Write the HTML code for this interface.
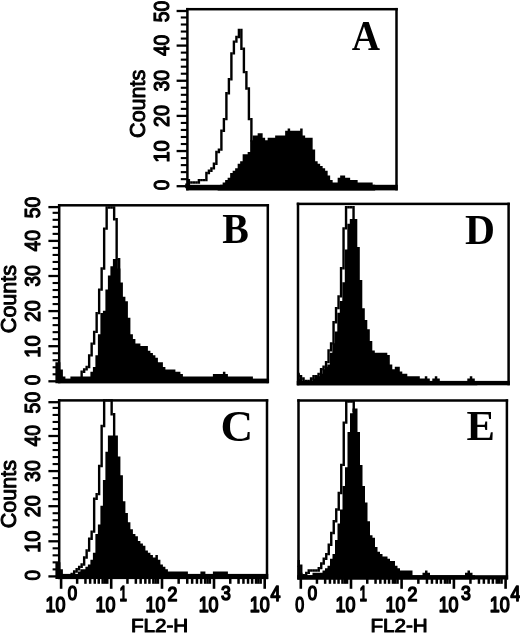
<!DOCTYPE html>
<html><head><meta charset="utf-8"><title>FL2-H histograms</title>
<style>
html,body{margin:0;padding:0;background:#fff;}
body{width:520px;height:636px;overflow:hidden;}
svg{display:block;}
text{fill:#000;}
</style></head><body>
<svg width="520" height="636" viewBox="0 0 520 636">
<rect x="0" y="0" width="520" height="636" fill="#fff"/>
<path d="M185.20 183.60h2.40v4.75h-2.40zM187.70 178.91h2.40v7.09h-2.40zM190.20 181.25h2.40v2.40h-2.40zM192.70 181.25h2.40v2.40h-2.40zM195.20 181.25h2.40v2.40h-2.40zM197.70 178.91h2.40v4.75h-2.40zM200.20 178.91h2.40v2.40h-2.40zM202.70 178.91h2.40v2.40h-2.40zM205.20 171.87h2.40v9.44h-2.40zM207.70 169.52h2.40v4.75h-2.40zM210.20 167.17h2.40v4.75h-2.40zM212.70 162.48h2.40v7.09h-2.40zM215.20 150.74h2.40v14.14h-2.40zM217.70 148.40h2.40v4.75h-2.40zM220.20 129.62h2.40v21.18h-2.40zM222.70 117.88h2.40v14.13h-2.40zM225.20 92.07h2.40v28.22h-2.40zM227.70 77.99h2.40v16.48h-2.40zM230.20 52.17h2.40v28.22h-2.40zM232.70 40.43h2.40v14.14h-2.40zM235.20 35.74h2.40v7.09h-2.40zM237.70 28.70h2.40v9.44h-2.40zM240.20 28.70h2.40v21.18h-2.40zM242.70 47.47h2.40v25.87h-2.40zM245.20 70.94h2.40v18.83h-2.40zM247.70 87.37h2.40v32.91h-2.40zM250.20 117.88h2.40v23.52h-2.40z" fill="#000"/>
<path d="M217.65 190.40 L217.65 187.15 L220.15 187.15 L220.15 184.80 L222.65 184.80 L222.65 182.45 L225.15 182.45 L225.15 180.11 L227.65 180.11 L227.65 177.76 L230.15 177.76 L230.15 173.06 L232.65 173.06 L232.65 170.72 L235.15 170.72 L235.15 168.37 L237.65 168.37 L237.65 163.68 L240.15 163.68 L240.15 161.33 L242.65 161.33 L242.65 154.29 L245.15 154.29 L245.15 154.29 L247.65 154.29 L247.65 151.94 L250.15 151.94 L250.15 140.21 L252.65 140.21 L252.65 135.51 L255.15 135.51 L255.15 135.51 L257.65 135.51 L257.65 133.17 L260.15 133.17 L260.15 133.17 L262.65 133.17 L262.65 137.86 L265.15 137.86 L265.15 140.21 L267.65 140.21 L267.65 137.86 L270.15 137.86 L270.15 137.86 L272.65 137.86 L272.65 137.86 L275.15 137.86 L275.15 135.51 L277.65 135.51 L277.65 135.51 L280.15 135.51 L280.15 135.51 L282.65 135.51 L282.65 135.51 L285.15 135.51 L285.15 130.82 L287.65 130.82 L287.65 128.47 L290.15 128.47 L290.15 130.82 L292.65 130.82 L292.65 130.82 L295.15 130.82 L295.15 130.82 L297.65 130.82 L297.65 130.82 L300.15 130.82 L300.15 128.47 L302.65 128.47 L302.65 135.51 L305.15 135.51 L305.15 137.86 L307.65 137.86 L307.65 137.86 L310.15 137.86 L310.15 137.86 L312.65 137.86 L312.65 149.60 L315.15 149.60 L315.15 161.33 L317.65 161.33 L317.65 163.68 L320.15 163.68 L320.15 166.02 L322.65 166.02 L322.65 168.37 L325.15 168.37 L325.15 170.72 L327.65 170.72 L327.65 175.41 L330.15 175.41 L330.15 180.11 L332.65 180.11 L332.65 182.45 L335.15 182.45 L335.15 182.45 L337.65 182.45 L337.65 177.76 L340.15 177.76 L340.15 175.41 L342.65 175.41 L342.65 175.41 L345.15 175.41 L345.15 177.76 L347.65 177.76 L347.65 177.76 L350.15 177.76 L350.15 180.11 L352.65 180.11 L352.65 180.11 L355.15 180.11 L355.15 180.11 L357.65 180.11 L357.65 182.45 L360.15 182.45 L360.15 182.45 L362.65 182.45 L362.65 182.45 L365.15 182.45 L365.15 182.45 L367.65 182.45 L367.65 182.45 L370.15 182.45 L370.15 182.45 L372.65 182.45 L372.65 184.80 L375.15 184.80 L375.15 190.40 Z" fill="#000"/>
<rect x="186.15" y="7.95" width="211.60" height="2.5" fill="#000"/>
<rect x="186.15" y="7.95" width="2.5" height="182.45" fill="#000"/>
<rect x="395.25" y="7.95" width="2.5" height="182.45" fill="#000"/>
<rect x="186.15" y="184.80" width="211.60" height="5.60" fill="#000"/>
<rect x="176.6" y="185.05" width="10.8" height="2.3" fill="#000"/>
<rect x="180.8" y="178.12" width="6.6" height="2.1" fill="#000"/>
<rect x="180.8" y="171.09" width="6.6" height="2.1" fill="#000"/>
<rect x="180.8" y="164.06" width="6.6" height="2.1" fill="#000"/>
<rect x="180.8" y="157.03" width="6.6" height="2.1" fill="#000"/>
<rect x="176.6" y="149.90" width="10.8" height="2.3" fill="#000"/>
<rect x="180.8" y="142.97" width="6.6" height="2.1" fill="#000"/>
<rect x="180.8" y="135.94" width="6.6" height="2.1" fill="#000"/>
<rect x="180.8" y="128.91" width="6.6" height="2.1" fill="#000"/>
<rect x="180.8" y="121.88" width="6.6" height="2.1" fill="#000"/>
<rect x="176.6" y="114.75" width="10.8" height="2.3" fill="#000"/>
<rect x="180.8" y="107.82" width="6.6" height="2.1" fill="#000"/>
<rect x="180.8" y="100.79" width="6.6" height="2.1" fill="#000"/>
<rect x="180.8" y="93.76" width="6.6" height="2.1" fill="#000"/>
<rect x="180.8" y="86.73" width="6.6" height="2.1" fill="#000"/>
<rect x="176.6" y="79.60" width="10.8" height="2.3" fill="#000"/>
<rect x="180.8" y="72.67" width="6.6" height="2.1" fill="#000"/>
<rect x="180.8" y="65.64" width="6.6" height="2.1" fill="#000"/>
<rect x="180.8" y="58.61" width="6.6" height="2.1" fill="#000"/>
<rect x="180.8" y="51.58" width="6.6" height="2.1" fill="#000"/>
<rect x="176.6" y="44.45" width="10.8" height="2.3" fill="#000"/>
<rect x="180.8" y="37.52" width="6.6" height="2.1" fill="#000"/>
<rect x="180.8" y="30.49" width="6.6" height="2.1" fill="#000"/>
<rect x="180.8" y="23.46" width="6.6" height="2.1" fill="#000"/>
<rect x="180.8" y="16.43" width="6.6" height="2.1" fill="#000"/>
<rect x="176.6" y="9.85" width="10.8" height="2.3" fill="#000"/>
<text transform="matrix(0 -0.8461 1 0 168.58 190.26)" font-family="&quot;Liberation Sans&quot;, sans-serif" font-size="22.39" font-weight="normal" stroke="#000" stroke-width="1.25" stroke-linejoin="round">0</text>
<text transform="matrix(0 -0.8976 1 0 168.58 162.56)" font-family="&quot;Liberation Sans&quot;, sans-serif" font-size="22.39" font-weight="normal" stroke="#000" stroke-width="1.25" stroke-linejoin="round">10</text>
<text transform="matrix(0 -0.8756 1 0 168.58 126.88)" font-family="&quot;Liberation Sans&quot;, sans-serif" font-size="22.39" font-weight="normal" stroke="#000" stroke-width="1.25" stroke-linejoin="round">20</text>
<text transform="matrix(0 -0.8671 1 0 168.58 91.53)" font-family="&quot;Liberation Sans&quot;, sans-serif" font-size="22.39" font-weight="normal" stroke="#000" stroke-width="1.25" stroke-linejoin="round">30</text>
<text transform="matrix(0 -0.8546 1 0 168.58 56.08)" font-family="&quot;Liberation Sans&quot;, sans-serif" font-size="22.39" font-weight="normal" stroke="#000" stroke-width="1.25" stroke-linejoin="round">40</text>
<text transform="matrix(0 -0.8671 1 0 168.58 22.18)" font-family="&quot;Liberation Sans&quot;, sans-serif" font-size="22.39" font-weight="normal" stroke="#000" stroke-width="1.25" stroke-linejoin="round">50</text>
<text transform="matrix(0 -0.9923 1 0 144.58 137.90)" font-family="&quot;Liberation Sans&quot;, sans-serif" font-size="21.69" font-weight="normal" stroke="#000" stroke-width="1.00" stroke-linejoin="round">Counts</text>
<text transform="matrix(0.9098 0 0 1 351.81 49.60)" font-family="&quot;Liberation Serif&quot;, serif" font-size="43.03" font-weight="bold" >A</text>
<path d="M80.45 370.56h2.40v11.79h-2.40zM82.95 368.21h2.40v4.75h-2.40zM85.45 365.87h2.40v4.75h-2.40zM87.95 354.13h2.40v14.13h-2.40zM90.45 342.40h2.40v14.14h-2.40zM92.95 330.66h2.40v14.14h-2.40zM95.45 311.88h2.40v21.18h-2.40zM97.95 288.41h2.40v25.87h-2.40zM100.45 267.29h2.40v23.52h-2.40zM102.95 227.39h2.40v42.30h-2.40zM105.45 206.27h2.40v23.52h-2.40zM107.95 206.27h2.40v2.40h-2.40zM110.45 206.27h2.40v2.40h-2.40zM112.95 206.27h2.40v14.13h-2.40zM115.45 218.00h2.40v42.30h-2.40zM117.95 257.90h2.40v28.22h-2.40z" fill="#000"/>
<path d="M55.40 383.20 L55.40 362.37 L57.90 362.37 L57.90 362.37 L60.40 362.37 L60.40 369.41 L62.90 369.41 L62.90 376.45 L65.40 376.45 L65.40 378.80 L67.90 378.80 L67.90 378.80 L70.40 378.80 L70.40 376.45 L72.90 376.45 L72.90 376.45 L75.40 376.45 L75.40 376.45 L77.90 376.45 L77.90 376.45 L80.40 376.45 L80.40 376.45 L82.90 376.45 L82.90 376.45 L85.40 376.45 L85.40 376.45 L87.90 376.45 L87.90 376.45 L90.40 376.45 L90.40 371.76 L92.90 371.76 L92.90 367.06 L95.40 367.06 L95.40 355.33 L97.90 355.33 L97.90 334.21 L100.40 334.21 L100.40 313.08 L102.90 313.08 L102.90 310.74 L105.40 310.74 L105.40 289.61 L107.90 289.61 L107.90 275.53 L110.40 275.53 L110.40 266.14 L112.90 266.14 L112.90 259.10 L115.40 259.10 L115.40 259.10 L117.90 259.10 L117.90 268.49 L120.40 268.49 L120.40 282.57 L122.90 282.57 L122.90 296.66 L125.40 296.66 L125.40 301.35 L127.90 301.35 L127.90 317.78 L130.40 317.78 L130.40 334.21 L132.90 334.21 L132.90 338.90 L135.40 338.90 L135.40 343.60 L137.90 343.60 L137.90 343.60 L140.40 343.60 L140.40 345.94 L142.90 345.94 L142.90 345.94 L145.40 345.94 L145.40 345.94 L147.90 345.94 L147.90 350.64 L150.40 350.64 L150.40 352.98 L152.90 352.98 L152.90 355.33 L155.40 355.33 L155.40 357.68 L157.90 357.68 L157.90 362.37 L160.40 362.37 L160.40 362.37 L162.90 362.37 L162.90 367.06 L165.40 367.06 L165.40 369.41 L167.90 369.41 L167.90 369.41 L170.40 369.41 L170.40 369.41 L172.90 369.41 L172.90 369.41 L175.40 369.41 L175.40 371.76 L177.90 371.76 L177.90 371.76 L180.40 371.76 L180.40 374.11 L182.90 374.11 L182.90 376.45 L185.40 376.45 L185.40 376.45 L187.90 376.45 L187.90 376.45 L190.40 376.45 L190.40 376.45 L192.90 376.45 L192.90 376.45 L195.40 376.45 L195.40 376.45 L197.90 376.45 L197.90 376.45 L200.40 376.45 L200.40 376.45 L202.90 376.45 L202.90 376.45 L205.40 376.45 L205.40 376.45 L207.90 376.45 L207.90 376.45 L210.40 376.45 L210.40 376.45 L212.90 376.45 L212.90 374.11 L215.40 374.11 L215.40 374.11 L217.90 374.11 L217.90 374.11 L220.40 374.11 L220.40 374.11 L222.90 374.11 L222.90 371.76 L225.40 371.76 L225.40 374.11 L227.90 374.11 L227.90 376.45 L230.40 376.45 L230.40 376.45 L232.90 376.45 L232.90 376.45 L235.40 376.45 L235.40 376.45 L237.90 376.45 L237.90 376.45 L240.40 376.45 L240.40 376.45 L242.90 376.45 L242.90 376.45 L245.40 376.45 L245.40 376.45 L247.90 376.45 L247.90 376.45 L250.40 376.45 L250.40 376.45 L252.90 376.45 L252.90 378.80 L255.40 378.80 L255.40 378.80 L257.90 378.80 L257.90 378.80 L260.40 378.80 L260.40 378.80 L262.90 378.80 L262.90 378.80 L265.40 378.80 L265.40 378.80 L267.90 378.80 L267.90 383.20 Z" fill="#000"/>
<rect x="57.95" y="204.05" width="211.10" height="2.5" fill="#000"/>
<rect x="57.95" y="204.05" width="2.5" height="179.15" fill="#000"/>
<rect x="266.55" y="204.05" width="2.5" height="179.15" fill="#000"/>
<rect x="57.95" y="378.80" width="211.10" height="4.40" fill="#000"/>
<rect x="48.4" y="380.15" width="10.8" height="2.3" fill="#000"/>
<rect x="52.6" y="373.23" width="6.6" height="2.1" fill="#000"/>
<rect x="52.6" y="366.21" width="6.6" height="2.1" fill="#000"/>
<rect x="52.6" y="359.19" width="6.6" height="2.1" fill="#000"/>
<rect x="52.6" y="352.17" width="6.6" height="2.1" fill="#000"/>
<rect x="48.4" y="345.05" width="10.8" height="2.3" fill="#000"/>
<rect x="52.6" y="338.13" width="6.6" height="2.1" fill="#000"/>
<rect x="52.6" y="331.11" width="6.6" height="2.1" fill="#000"/>
<rect x="52.6" y="324.09" width="6.6" height="2.1" fill="#000"/>
<rect x="52.6" y="317.07" width="6.6" height="2.1" fill="#000"/>
<rect x="48.4" y="309.95" width="10.8" height="2.3" fill="#000"/>
<rect x="52.6" y="303.03" width="6.6" height="2.1" fill="#000"/>
<rect x="52.6" y="296.01" width="6.6" height="2.1" fill="#000"/>
<rect x="52.6" y="288.99" width="6.6" height="2.1" fill="#000"/>
<rect x="52.6" y="281.97" width="6.6" height="2.1" fill="#000"/>
<rect x="48.4" y="274.85" width="10.8" height="2.3" fill="#000"/>
<rect x="52.6" y="267.93" width="6.6" height="2.1" fill="#000"/>
<rect x="52.6" y="260.91" width="6.6" height="2.1" fill="#000"/>
<rect x="52.6" y="253.89" width="6.6" height="2.1" fill="#000"/>
<rect x="52.6" y="246.87" width="6.6" height="2.1" fill="#000"/>
<rect x="48.4" y="239.75" width="10.8" height="2.3" fill="#000"/>
<rect x="52.6" y="232.83" width="6.6" height="2.1" fill="#000"/>
<rect x="52.6" y="225.81" width="6.6" height="2.1" fill="#000"/>
<rect x="52.6" y="218.79" width="6.6" height="2.1" fill="#000"/>
<rect x="52.6" y="211.77" width="6.6" height="2.1" fill="#000"/>
<rect x="48.4" y="205.95" width="10.8" height="2.3" fill="#000"/>
<text transform="matrix(0 -0.8461 1 0 40.38 385.36)" font-family="&quot;Liberation Sans&quot;, sans-serif" font-size="22.39" font-weight="normal" stroke="#000" stroke-width="1.25" stroke-linejoin="round">0</text>
<text transform="matrix(0 -0.8976 1 0 40.38 357.71)" font-family="&quot;Liberation Sans&quot;, sans-serif" font-size="22.39" font-weight="normal" stroke="#000" stroke-width="1.25" stroke-linejoin="round">10</text>
<text transform="matrix(0 -0.8756 1 0 40.38 322.08)" font-family="&quot;Liberation Sans&quot;, sans-serif" font-size="22.39" font-weight="normal" stroke="#000" stroke-width="1.25" stroke-linejoin="round">20</text>
<text transform="matrix(0 -0.8671 1 0 40.38 286.78)" font-family="&quot;Liberation Sans&quot;, sans-serif" font-size="22.39" font-weight="normal" stroke="#000" stroke-width="1.25" stroke-linejoin="round">30</text>
<text transform="matrix(0 -0.8546 1 0 40.38 251.38)" font-family="&quot;Liberation Sans&quot;, sans-serif" font-size="22.39" font-weight="normal" stroke="#000" stroke-width="1.25" stroke-linejoin="round">40</text>
<text transform="matrix(0 -0.8671 1 0 40.38 218.28)" font-family="&quot;Liberation Sans&quot;, sans-serif" font-size="22.39" font-weight="normal" stroke="#000" stroke-width="1.25" stroke-linejoin="round">50</text>
<text transform="matrix(0 -0.9923 1 0 16.38 333.13)" font-family="&quot;Liberation Sans&quot;, sans-serif" font-size="21.69" font-weight="normal" stroke="#000" stroke-width="1.00" stroke-linejoin="round">Counts</text>
<text transform="matrix(0.9562 0 0 1 222.30 243.49)" font-family="&quot;Liberation Serif&quot;, serif" font-size="41.67" font-weight="bold" >B</text>
<path d="M67.95 575.05h2.40v2.40h-2.40zM70.45 572.70h2.40v4.75h-2.40zM72.95 570.35h2.40v4.75h-2.40zM75.45 568.01h2.40v4.75h-2.40zM77.95 565.66h2.40v4.75h-2.40zM80.45 563.31h2.40v4.75h-2.40zM82.95 556.27h2.40v9.44h-2.40zM85.45 549.23h2.40v9.44h-2.40zM87.95 537.49h2.40v14.14h-2.40zM90.45 530.45h2.40v9.44h-2.40zM92.95 497.60h2.40v35.26h-2.40zM95.45 492.90h2.40v7.09h-2.40zM97.95 464.74h2.40v30.56h-2.40zM100.45 424.84h2.40v42.30h-2.40zM102.95 399.20h2.40v28.04h-2.40zM105.45 399.20h2.40v2.22h-2.40zM107.95 399.20h2.40v2.22h-2.40zM110.45 399.20h2.40v16.30h-2.40zM112.95 413.10h2.40v25.87h-2.40z" fill="#000"/>
<path d="M55.40 579.10 L55.40 562.16 L57.90 562.16 L57.90 562.16 L60.40 562.16 L60.40 569.21 L62.90 569.21 L62.90 573.90 L65.40 573.90 L65.40 576.25 L67.90 576.25 L67.90 576.25 L70.40 576.25 L70.40 573.90 L72.90 573.90 L72.90 573.90 L75.40 573.90 L75.40 573.90 L77.90 573.90 L77.90 571.55 L80.40 571.55 L80.40 569.21 L82.90 569.21 L82.90 569.21 L85.40 569.21 L85.40 566.86 L87.90 566.86 L87.90 564.51 L90.40 564.51 L90.40 559.82 L92.90 559.82 L92.90 552.78 L95.40 552.78 L95.40 534.00 L97.90 534.00 L97.90 524.61 L100.40 524.61 L100.40 505.84 L102.90 505.84 L102.90 480.02 L105.40 480.02 L105.40 451.86 L107.90 451.86 L107.90 435.43 L110.40 435.43 L110.40 435.43 L112.90 435.43 L112.90 435.43 L115.40 435.43 L115.40 435.43 L117.90 435.43 L117.90 456.55 L120.40 456.55 L120.40 475.33 L122.90 475.33 L122.90 501.14 L125.40 501.14 L125.40 512.88 L127.90 512.88 L127.90 522.27 L130.40 522.27 L130.40 529.31 L132.90 529.31 L132.90 534.00 L135.40 534.00 L135.40 536.35 L137.90 536.35 L137.90 541.04 L140.40 541.04 L140.40 543.39 L142.90 543.39 L142.90 545.74 L145.40 545.74 L145.40 550.43 L147.90 550.43 L147.90 552.78 L150.40 552.78 L150.40 555.12 L152.90 555.12 L152.90 557.47 L155.40 557.47 L155.40 555.12 L157.90 555.12 L157.90 559.82 L160.40 559.82 L160.40 564.51 L162.90 564.51 L162.90 566.86 L165.40 566.86 L165.40 569.21 L167.90 569.21 L167.90 571.55 L170.40 571.55 L170.40 571.55 L172.90 571.55 L172.90 571.55 L175.40 571.55 L175.40 571.55 L177.90 571.55 L177.90 571.55 L180.40 571.55 L180.40 571.55 L182.90 571.55 L182.90 571.55 L185.40 571.55 L185.40 571.55 L187.90 571.55 L187.90 573.90 L190.40 573.90 L190.40 573.90 L192.90 573.90 L192.90 573.90 L195.40 573.90 L195.40 573.90 L197.90 573.90 L197.90 573.90 L200.40 573.90 L200.40 571.55 L202.90 571.55 L202.90 571.55 L205.40 571.55 L205.40 573.90 L207.90 573.90 L207.90 573.90 L210.40 573.90 L210.40 573.90 L212.90 573.90 L212.90 571.55 L215.40 571.55 L215.40 571.55 L217.90 571.55 L217.90 571.55 L220.40 571.55 L220.40 571.55 L222.90 571.55 L222.90 571.55 L225.40 571.55 L225.40 571.55 L227.90 571.55 L227.90 573.90 L230.40 573.90 L230.40 579.10 Z" fill="#000"/>
<rect x="57.95" y="399.15" width="210.30" height="2.5" fill="#000"/>
<rect x="57.95" y="399.15" width="2.5" height="179.95" fill="#000"/>
<rect x="265.75" y="399.15" width="2.5" height="179.95" fill="#000"/>
<rect x="57.95" y="573.90" width="210.30" height="5.20" fill="#000"/>
<rect x="48.4" y="575.25" width="10.8" height="2.3" fill="#000"/>
<rect x="52.6" y="568.33" width="6.6" height="2.1" fill="#000"/>
<rect x="52.6" y="561.31" width="6.6" height="2.1" fill="#000"/>
<rect x="52.6" y="554.29" width="6.6" height="2.1" fill="#000"/>
<rect x="52.6" y="547.27" width="6.6" height="2.1" fill="#000"/>
<rect x="48.4" y="540.15" width="10.8" height="2.3" fill="#000"/>
<rect x="52.6" y="533.23" width="6.6" height="2.1" fill="#000"/>
<rect x="52.6" y="526.21" width="6.6" height="2.1" fill="#000"/>
<rect x="52.6" y="519.19" width="6.6" height="2.1" fill="#000"/>
<rect x="52.6" y="512.17" width="6.6" height="2.1" fill="#000"/>
<rect x="48.4" y="505.05" width="10.8" height="2.3" fill="#000"/>
<rect x="52.6" y="498.13" width="6.6" height="2.1" fill="#000"/>
<rect x="52.6" y="491.11" width="6.6" height="2.1" fill="#000"/>
<rect x="52.6" y="484.09" width="6.6" height="2.1" fill="#000"/>
<rect x="52.6" y="477.07" width="6.6" height="2.1" fill="#000"/>
<rect x="48.4" y="469.95" width="10.8" height="2.3" fill="#000"/>
<rect x="52.6" y="463.03" width="6.6" height="2.1" fill="#000"/>
<rect x="52.6" y="456.01" width="6.6" height="2.1" fill="#000"/>
<rect x="52.6" y="448.99" width="6.6" height="2.1" fill="#000"/>
<rect x="52.6" y="441.97" width="6.6" height="2.1" fill="#000"/>
<rect x="48.4" y="434.85" width="10.8" height="2.3" fill="#000"/>
<rect x="52.6" y="427.93" width="6.6" height="2.1" fill="#000"/>
<rect x="52.6" y="420.91" width="6.6" height="2.1" fill="#000"/>
<rect x="52.6" y="413.89" width="6.6" height="2.1" fill="#000"/>
<rect x="52.6" y="406.87" width="6.6" height="2.1" fill="#000"/>
<rect x="48.4" y="401.05" width="10.8" height="2.3" fill="#000"/>
<text transform="matrix(0 -0.8461 1 0 40.38 580.46)" font-family="&quot;Liberation Sans&quot;, sans-serif" font-size="22.39" font-weight="normal" stroke="#000" stroke-width="1.25" stroke-linejoin="round">0</text>
<text transform="matrix(0 -0.8976 1 0 40.38 552.81)" font-family="&quot;Liberation Sans&quot;, sans-serif" font-size="22.39" font-weight="normal" stroke="#000" stroke-width="1.25" stroke-linejoin="round">10</text>
<text transform="matrix(0 -0.8756 1 0 40.38 517.18)" font-family="&quot;Liberation Sans&quot;, sans-serif" font-size="22.39" font-weight="normal" stroke="#000" stroke-width="1.25" stroke-linejoin="round">20</text>
<text transform="matrix(0 -0.8671 1 0 40.38 481.88)" font-family="&quot;Liberation Sans&quot;, sans-serif" font-size="22.39" font-weight="normal" stroke="#000" stroke-width="1.25" stroke-linejoin="round">30</text>
<text transform="matrix(0 -0.8546 1 0 40.38 446.48)" font-family="&quot;Liberation Sans&quot;, sans-serif" font-size="22.39" font-weight="normal" stroke="#000" stroke-width="1.25" stroke-linejoin="round">40</text>
<text transform="matrix(0 -0.8671 1 0 40.38 413.38)" font-family="&quot;Liberation Sans&quot;, sans-serif" font-size="22.39" font-weight="normal" stroke="#000" stroke-width="1.25" stroke-linejoin="round">50</text>
<text transform="matrix(0 -0.9923 1 0 16.38 528.23)" font-family="&quot;Liberation Sans&quot;, sans-serif" font-size="21.69" font-weight="normal" stroke="#000" stroke-width="1.00" stroke-linejoin="round">Counts</text>
<rect x="59.8" y="578.5" width="2.6" height="10.3" fill="#000"/>
<rect x="75.9" y="578.5" width="2.5" height="5.3" fill="#000"/>
<rect x="84.2" y="578.5" width="2.5" height="5.3" fill="#000"/>
<rect x="88.9" y="578.5" width="2.5" height="5.3" fill="#000"/>
<rect x="93.5" y="578.5" width="2.5" height="5.3" fill="#000"/>
<rect x="97.5" y="578.5" width="2.5" height="5.3" fill="#000"/>
<rect x="101.4" y="578.5" width="2.5" height="5.3" fill="#000"/>
<rect x="103.7" y="578.5" width="2.5" height="5.3" fill="#000"/>
<rect x="106.0" y="578.5" width="2.5" height="5.3" fill="#000"/>
<rect x="109.9" y="578.5" width="2.6" height="10.3" fill="#000"/>
<rect x="126.2" y="578.5" width="2.5" height="5.3" fill="#000"/>
<rect x="134.6" y="578.5" width="2.5" height="5.3" fill="#000"/>
<rect x="139.4" y="578.5" width="2.5" height="5.3" fill="#000"/>
<rect x="144.1" y="578.5" width="2.5" height="5.3" fill="#000"/>
<rect x="148.2" y="578.5" width="2.5" height="5.3" fill="#000"/>
<rect x="152.1" y="578.5" width="2.5" height="5.3" fill="#000"/>
<rect x="154.4" y="578.5" width="2.5" height="5.3" fill="#000"/>
<rect x="156.7" y="578.5" width="2.5" height="5.3" fill="#000"/>
<rect x="160.7" y="578.5" width="2.6" height="10.3" fill="#000"/>
<rect x="177.4" y="578.5" width="2.5" height="5.3" fill="#000"/>
<rect x="186.0" y="578.5" width="2.5" height="5.3" fill="#000"/>
<rect x="190.9" y="578.5" width="2.5" height="5.3" fill="#000"/>
<rect x="195.7" y="578.5" width="2.5" height="5.3" fill="#000"/>
<rect x="199.9" y="578.5" width="2.5" height="5.3" fill="#000"/>
<rect x="203.9" y="578.5" width="2.5" height="5.3" fill="#000"/>
<rect x="206.3" y="578.5" width="2.5" height="5.3" fill="#000"/>
<rect x="208.6" y="578.5" width="2.5" height="5.3" fill="#000"/>
<rect x="212.7" y="578.5" width="2.6" height="10.3" fill="#000"/>
<rect x="229.0" y="578.5" width="2.5" height="5.3" fill="#000"/>
<rect x="237.3" y="578.5" width="2.5" height="5.3" fill="#000"/>
<rect x="242.2" y="578.5" width="2.5" height="5.3" fill="#000"/>
<rect x="246.8" y="578.5" width="2.5" height="5.3" fill="#000"/>
<rect x="250.9" y="578.5" width="2.5" height="5.3" fill="#000"/>
<rect x="254.8" y="578.5" width="2.5" height="5.3" fill="#000"/>
<rect x="257.1" y="578.5" width="2.5" height="5.3" fill="#000"/>
<rect x="259.4" y="578.5" width="2.5" height="5.3" fill="#000"/>
<rect x="263.4" y="578.5" width="2.6" height="10.3" fill="#000"/>
<text transform="matrix(0.8356 0 0 1 45.56 611.89)" font-family="&quot;Liberation Sans&quot;, sans-serif" font-size="21.41" font-weight="normal" stroke="#000" stroke-width="1.60" stroke-linejoin="round">10</text>
<text transform="matrix(0.8190 0 0 1 67.63 600.49)" font-family="&quot;Liberation Sans&quot;, sans-serif" font-size="20.56" font-weight="normal" stroke="#000" stroke-width="1.60" stroke-linejoin="round">0</text>
<text transform="matrix(0.8356 0 0 1 95.56 611.89)" font-family="&quot;Liberation Sans&quot;, sans-serif" font-size="21.41" font-weight="normal" stroke="#000" stroke-width="1.60" stroke-linejoin="round">10</text>
<text transform="matrix(0.6375 0 0 1 119.59 600.70)" font-family="&quot;Liberation Sans&quot;, sans-serif" font-size="21.16" font-weight="normal" stroke="#000" stroke-width="1.60" stroke-linejoin="round">1</text>
<text transform="matrix(0.8356 0 0 1 145.56 611.89)" font-family="&quot;Liberation Sans&quot;, sans-serif" font-size="21.41" font-weight="normal" stroke="#000" stroke-width="1.60" stroke-linejoin="round">10</text>
<text transform="matrix(0.8535 0 0 1 167.41 600.70)" font-family="&quot;Liberation Sans&quot;, sans-serif" font-size="20.86" font-weight="normal" stroke="#000" stroke-width="1.60" stroke-linejoin="round">2</text>
<text transform="matrix(0.8356 0 0 1 198.66 611.89)" font-family="&quot;Liberation Sans&quot;, sans-serif" font-size="21.41" font-weight="normal" stroke="#000" stroke-width="1.60" stroke-linejoin="round">10</text>
<text transform="matrix(0.8588 0 0 1 220.89 600.49)" font-family="&quot;Liberation Sans&quot;, sans-serif" font-size="20.56" font-weight="normal" stroke="#000" stroke-width="1.60" stroke-linejoin="round">3</text>
<text transform="matrix(0.8356 0 0 1 249.76 611.89)" font-family="&quot;Liberation Sans&quot;, sans-serif" font-size="21.41" font-weight="normal" stroke="#000" stroke-width="1.60" stroke-linejoin="round">10</text>
<text transform="matrix(0.8507 0 0 1 270.55 600.70)" font-family="&quot;Liberation Sans&quot;, sans-serif" font-size="21.16" font-weight="normal" stroke="#000" stroke-width="1.60" stroke-linejoin="round">4</text>
<text transform="matrix(1.0787 0 0 1 130.95 632.30)" font-family="&quot;Liberation Sans&quot;, sans-serif" font-size="19.14" font-weight="normal" stroke="#000" stroke-width="1.00" stroke-linejoin="round">FL2-H</text>
<text transform="matrix(1.0338 0 0 1 220.44 440.76)" font-family="&quot;Liberation Serif&quot;, serif" font-size="43.73" font-weight="bold" >C</text>
<path d="M297.35 372.66h2.40v4.75h-2.40zM299.85 375.01h2.40v4.75h-2.40zM302.35 377.35h2.40v4.75h-2.40zM304.85 379.70h2.40v2.40h-2.40zM307.35 379.70h2.40v2.40h-2.40zM309.85 377.35h2.40v4.75h-2.40zM312.35 375.01h2.40v4.75h-2.40zM314.85 375.01h2.40v2.40h-2.40zM317.35 372.66h2.40v4.75h-2.40zM319.85 367.96h2.40v7.09h-2.40zM322.35 365.62h2.40v4.75h-2.40zM324.85 360.92h2.40v7.09h-2.40zM327.35 349.19h2.40v14.14h-2.40zM329.85 342.15h2.40v9.44h-2.40zM332.35 321.02h2.40v23.52h-2.40zM334.85 306.94h2.40v16.48h-2.40zM337.35 295.21h2.40v14.14h-2.40zM339.85 267.04h2.40v30.56h-2.40zM342.35 227.14h2.40v42.30h-2.40zM344.85 206.02h2.40v23.52h-2.40zM347.35 206.02h2.40v2.40h-2.40zM349.85 206.02h2.40v2.40h-2.40zM352.35 206.02h2.40v14.13h-2.40z" fill="#000"/>
<path d="M297.30 385.30 L297.30 373.86 L299.80 373.86 L299.80 378.55 L302.30 378.55 L302.30 380.90 L304.80 380.90 L304.80 380.90 L307.30 380.90 L307.30 380.90 L309.80 380.90 L309.80 380.90 L312.30 380.90 L312.30 378.55 L314.80 378.55 L314.80 376.21 L317.30 376.21 L317.30 376.21 L319.80 376.21 L319.80 373.86 L322.30 373.86 L322.30 369.16 L324.80 369.16 L324.80 366.82 L327.30 366.82 L327.30 364.47 L329.80 364.47 L329.80 352.74 L332.30 352.74 L332.30 343.35 L334.80 343.35 L334.80 331.61 L337.30 331.61 L337.30 312.84 L339.80 312.84 L339.80 301.10 L342.30 301.10 L342.30 282.33 L344.80 282.33 L344.80 249.47 L347.30 249.47 L347.30 223.65 L349.80 223.65 L349.80 218.96 L352.30 218.96 L352.30 218.96 L354.80 218.96 L354.80 218.96 L357.30 218.96 L357.30 247.12 L359.80 247.12 L359.80 279.98 L362.30 279.98 L362.30 308.14 L364.80 308.14 L364.80 319.88 L367.30 319.88 L367.30 329.27 L369.80 329.27 L369.80 341.00 L372.30 341.00 L372.30 350.39 L374.80 350.39 L374.80 352.74 L377.30 352.74 L377.30 352.74 L379.80 352.74 L379.80 352.74 L382.30 352.74 L382.30 352.74 L384.80 352.74 L384.80 352.74 L387.30 352.74 L387.30 355.08 L389.80 355.08 L389.80 364.47 L392.30 364.47 L392.30 369.16 L394.80 369.16 L394.80 366.82 L397.30 366.82 L397.30 366.82 L399.80 366.82 L399.80 371.51 L402.30 371.51 L402.30 373.86 L404.80 373.86 L404.80 373.86 L407.30 373.86 L407.30 376.21 L409.80 376.21 L409.80 376.21 L412.30 376.21 L412.30 376.21 L414.80 376.21 L414.80 376.21 L417.30 376.21 L417.30 376.21 L419.80 376.21 L419.80 378.55 L422.30 378.55 L422.30 378.55 L424.80 378.55 L424.80 376.21 L427.30 376.21 L427.30 378.55 L429.80 378.55 L429.80 380.90 L432.30 380.90 L432.30 378.55 L434.80 378.55 L434.80 376.21 L437.30 376.21 L437.30 378.55 L439.80 378.55 L439.80 380.90 L442.30 380.90 L442.30 380.90 L444.80 380.90 L444.80 380.90 L447.30 380.90 L447.30 380.90 L449.80 380.90 L449.80 380.90 L452.30 380.90 L452.30 380.90 L454.80 380.90 L454.80 380.90 L457.30 380.90 L457.30 380.90 L459.80 380.90 L459.80 380.90 L462.30 380.90 L462.30 380.90 L464.80 380.90 L464.80 380.90 L467.30 380.90 L467.30 378.55 L469.80 378.55 L469.80 376.21 L472.30 376.21 L472.30 378.55 L474.80 378.55 L474.80 380.90 L477.30 380.90 L477.30 385.30 Z" fill="#000"/>
<rect x="296.75" y="202.65" width="213.10" height="2.5" fill="#000"/>
<rect x="296.75" y="202.65" width="2.5" height="182.65" fill="#000"/>
<rect x="507.35" y="202.65" width="2.5" height="182.65" fill="#000"/>
<rect x="296.75" y="380.90" width="213.10" height="4.40" fill="#000"/>
<text transform="matrix(0.9891 0 0 1 464.97 243.50)" font-family="&quot;Liberation Serif&quot;, serif" font-size="41.98" font-weight="bold" >D</text>
<path d="M297.55 559.92h2.40v7.09h-2.40zM300.05 564.61h2.40v11.79h-2.40zM302.55 574.00h2.40v2.40h-2.40zM305.05 571.65h2.40v4.75h-2.40zM307.55 569.31h2.40v4.75h-2.40zM310.05 569.31h2.40v2.40h-2.40zM312.55 569.31h2.40v2.40h-2.40zM315.05 569.31h2.40v2.40h-2.40zM317.55 566.96h2.40v4.75h-2.40zM320.05 562.26h2.40v7.09h-2.40zM322.55 557.57h2.40v7.09h-2.40zM325.05 552.88h2.40v7.09h-2.40zM327.55 543.49h2.40v11.79h-2.40zM330.05 531.75h2.40v14.14h-2.40zM332.55 520.02h2.40v14.14h-2.40zM335.05 508.28h2.40v14.14h-2.40zM337.55 491.86h2.40v18.83h-2.40zM340.05 463.69h2.40v30.56h-2.40zM342.55 421.45h2.40v44.65h-2.40zM345.05 400.32h2.40v23.52h-2.40zM347.55 400.32h2.40v2.40h-2.40zM350.05 400.32h2.40v2.40h-2.40zM352.55 400.32h2.40v11.79h-2.40z" fill="#000"/>
<path d="M297.50 579.50 L297.50 565.81 L300.00 565.81 L300.00 572.85 L302.50 572.85 L302.50 577.55 L305.00 577.55 L305.00 575.20 L307.50 575.20 L307.50 575.20 L310.00 575.20 L310.00 575.20 L312.50 575.20 L312.50 572.85 L315.00 572.85 L315.00 572.85 L317.50 572.85 L317.50 572.85 L320.00 572.85 L320.00 572.85 L322.50 572.85 L322.50 570.51 L325.00 570.51 L325.00 568.16 L327.50 568.16 L327.50 565.81 L330.00 565.81 L330.00 558.77 L332.50 558.77 L332.50 554.08 L335.00 554.08 L335.00 540.00 L337.50 540.00 L337.50 523.57 L340.00 523.57 L340.00 509.48 L342.50 509.48 L342.50 486.01 L345.00 486.01 L345.00 467.24 L347.50 467.24 L347.50 432.03 L350.00 432.03 L350.00 413.26 L352.50 413.26 L352.50 408.56 L355.00 408.56 L355.00 408.56 L357.50 408.56 L357.50 432.03 L360.00 432.03 L360.00 464.89 L362.50 464.89 L362.50 486.01 L365.00 486.01 L365.00 502.44 L367.50 502.44 L367.50 521.22 L370.00 521.22 L370.00 535.30 L372.50 535.30 L372.50 537.65 L375.00 537.65 L375.00 547.04 L377.50 547.04 L377.50 551.73 L380.00 551.73 L380.00 554.08 L382.50 554.08 L382.50 556.42 L385.00 556.42 L385.00 556.42 L387.50 556.42 L387.50 558.77 L390.00 558.77 L390.00 561.12 L392.50 561.12 L392.50 561.12 L395.00 561.12 L395.00 565.81 L397.50 565.81 L397.50 568.16 L400.00 568.16 L400.00 570.51 L402.50 570.51 L402.50 570.51 L405.00 570.51 L405.00 570.51 L407.50 570.51 L407.50 570.51 L410.00 570.51 L410.00 570.51 L412.50 570.51 L412.50 575.20 L415.00 575.20 L415.00 575.20 L417.50 575.20 L417.50 575.20 L420.00 575.20 L420.00 575.20 L422.50 575.20 L422.50 572.85 L425.00 572.85 L425.00 570.51 L427.50 570.51 L427.50 572.85 L430.00 572.85 L430.00 575.20 L432.50 575.20 L432.50 575.20 L435.00 575.20 L435.00 575.20 L437.50 575.20 L437.50 575.20 L440.00 575.20 L440.00 575.20 L442.50 575.20 L442.50 575.20 L445.00 575.20 L445.00 575.20 L447.50 575.20 L447.50 575.20 L450.00 575.20 L450.00 575.20 L452.50 575.20 L452.50 575.20 L455.00 575.20 L455.00 575.20 L457.50 575.20 L457.50 575.20 L460.00 575.20 L460.00 575.20 L462.50 575.20 L462.50 575.20 L465.00 575.20 L465.00 572.85 L467.50 572.85 L467.50 570.51 L470.00 570.51 L470.00 572.85 L472.50 572.85 L472.50 575.20 L475.00 575.20 L475.00 579.50 Z" fill="#000"/>
<rect x="297.25" y="399.25" width="210.90" height="2.5" fill="#000"/>
<rect x="297.25" y="399.25" width="2.5" height="180.25" fill="#000"/>
<rect x="505.65" y="399.25" width="2.5" height="180.25" fill="#000"/>
<rect x="297.25" y="575.20" width="210.90" height="4.30" fill="#000"/>
<rect x="299.5" y="578.5" width="2.6" height="10.3" fill="#000"/>
<rect x="315.7" y="578.5" width="2.5" height="5.3" fill="#000"/>
<rect x="323.9" y="578.5" width="2.5" height="5.3" fill="#000"/>
<rect x="328.7" y="578.5" width="2.5" height="5.3" fill="#000"/>
<rect x="333.2" y="578.5" width="2.5" height="5.3" fill="#000"/>
<rect x="337.3" y="578.5" width="2.5" height="5.3" fill="#000"/>
<rect x="341.2" y="578.5" width="2.5" height="5.3" fill="#000"/>
<rect x="343.5" y="578.5" width="2.5" height="5.3" fill="#000"/>
<rect x="345.8" y="578.5" width="2.5" height="5.3" fill="#000"/>
<rect x="349.7" y="578.5" width="2.6" height="10.3" fill="#000"/>
<rect x="366.0" y="578.5" width="2.5" height="5.3" fill="#000"/>
<rect x="374.3" y="578.5" width="2.5" height="5.3" fill="#000"/>
<rect x="379.1" y="578.5" width="2.5" height="5.3" fill="#000"/>
<rect x="383.7" y="578.5" width="2.5" height="5.3" fill="#000"/>
<rect x="387.8" y="578.5" width="2.5" height="5.3" fill="#000"/>
<rect x="391.7" y="578.5" width="2.5" height="5.3" fill="#000"/>
<rect x="394.0" y="578.5" width="2.5" height="5.3" fill="#000"/>
<rect x="396.3" y="578.5" width="2.5" height="5.3" fill="#000"/>
<rect x="400.3" y="578.5" width="2.6" height="10.3" fill="#000"/>
<rect x="417.1" y="578.5" width="2.5" height="5.3" fill="#000"/>
<rect x="425.7" y="578.5" width="2.5" height="5.3" fill="#000"/>
<rect x="430.7" y="578.5" width="2.5" height="5.3" fill="#000"/>
<rect x="435.5" y="578.5" width="2.5" height="5.3" fill="#000"/>
<rect x="439.7" y="578.5" width="2.5" height="5.3" fill="#000"/>
<rect x="443.7" y="578.5" width="2.5" height="5.3" fill="#000"/>
<rect x="446.1" y="578.5" width="2.5" height="5.3" fill="#000"/>
<rect x="448.5" y="578.5" width="2.5" height="5.3" fill="#000"/>
<rect x="452.6" y="578.5" width="2.6" height="10.3" fill="#000"/>
<rect x="469.2" y="578.5" width="2.5" height="5.3" fill="#000"/>
<rect x="477.7" y="578.5" width="2.5" height="5.3" fill="#000"/>
<rect x="482.6" y="578.5" width="2.5" height="5.3" fill="#000"/>
<rect x="487.4" y="578.5" width="2.5" height="5.3" fill="#000"/>
<rect x="491.6" y="578.5" width="2.5" height="5.3" fill="#000"/>
<rect x="495.5" y="578.5" width="2.5" height="5.3" fill="#000"/>
<rect x="497.9" y="578.5" width="2.5" height="5.3" fill="#000"/>
<rect x="500.3" y="578.5" width="2.5" height="5.3" fill="#000"/>
<rect x="504.3" y="578.5" width="2.6" height="10.3" fill="#000"/>
<text transform="matrix(0.7474 0 0 1 295.26 611.89)" font-family="&quot;Liberation Sans&quot;, sans-serif" font-size="21.41" font-weight="normal" stroke="#000" stroke-width="1.60" stroke-linejoin="round">0</text>
<text transform="matrix(0.8190 0 0 1 307.63 600.49)" font-family="&quot;Liberation Sans&quot;, sans-serif" font-size="20.56" font-weight="normal" stroke="#000" stroke-width="1.60" stroke-linejoin="round">0</text>
<text transform="matrix(0.8356 0 0 1 335.56 611.89)" font-family="&quot;Liberation Sans&quot;, sans-serif" font-size="21.41" font-weight="normal" stroke="#000" stroke-width="1.60" stroke-linejoin="round">10</text>
<text transform="matrix(0.6375 0 0 1 359.59 600.70)" font-family="&quot;Liberation Sans&quot;, sans-serif" font-size="21.16" font-weight="normal" stroke="#000" stroke-width="1.60" stroke-linejoin="round">1</text>
<text transform="matrix(0.8356 0 0 1 385.56 611.89)" font-family="&quot;Liberation Sans&quot;, sans-serif" font-size="21.41" font-weight="normal" stroke="#000" stroke-width="1.60" stroke-linejoin="round">10</text>
<text transform="matrix(0.8535 0 0 1 407.41 600.70)" font-family="&quot;Liberation Sans&quot;, sans-serif" font-size="20.86" font-weight="normal" stroke="#000" stroke-width="1.60" stroke-linejoin="round">2</text>
<text transform="matrix(0.8356 0 0 1 438.66 611.89)" font-family="&quot;Liberation Sans&quot;, sans-serif" font-size="21.41" font-weight="normal" stroke="#000" stroke-width="1.60" stroke-linejoin="round">10</text>
<text transform="matrix(0.8588 0 0 1 460.89 600.49)" font-family="&quot;Liberation Sans&quot;, sans-serif" font-size="20.56" font-weight="normal" stroke="#000" stroke-width="1.60" stroke-linejoin="round">3</text>
<text transform="matrix(0.8356 0 0 1 489.76 611.89)" font-family="&quot;Liberation Sans&quot;, sans-serif" font-size="21.41" font-weight="normal" stroke="#000" stroke-width="1.60" stroke-linejoin="round">10</text>
<text transform="matrix(0.8507 0 0 1 510.55 600.70)" font-family="&quot;Liberation Sans&quot;, sans-serif" font-size="21.16" font-weight="normal" stroke="#000" stroke-width="1.60" stroke-linejoin="round">4</text>
<text transform="matrix(1.0787 0 0 1 370.45 632.30)" font-family="&quot;Liberation Sans&quot;, sans-serif" font-size="19.14" font-weight="normal" stroke="#000" stroke-width="1.00" stroke-linejoin="round">FL2-H</text>
<text transform="matrix(1.0162 0 0 1 466.46 440.40)" font-family="&quot;Liberation Serif&quot;, serif" font-size="41.98" font-weight="bold" >E</text>
</svg>
</body></html>
